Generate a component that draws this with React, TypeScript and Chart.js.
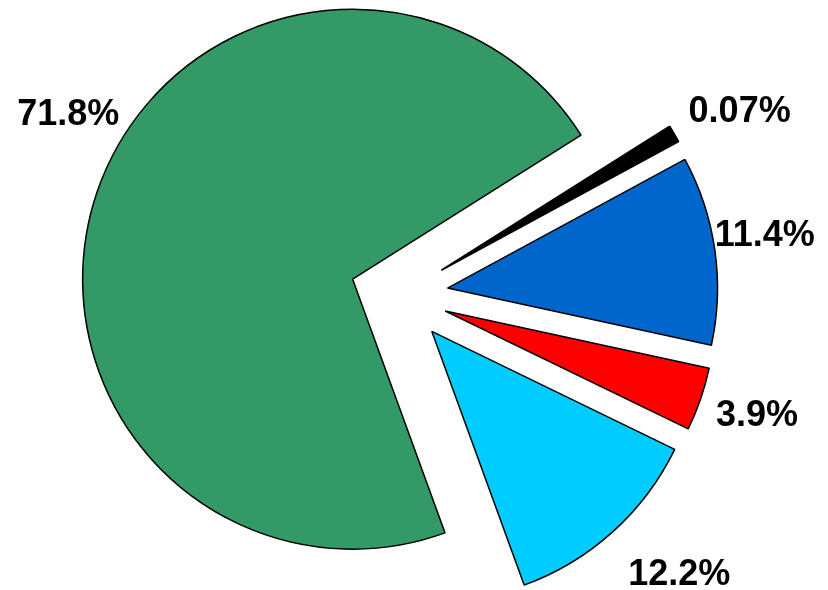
import React, { useEffect, useRef } from 'react';
import { Chart, registerables, PieController } from 'chart.js';

// ---- data ----
const sliceNames = ['Slice A', 'Slice B', 'Slice C', 'Slice D', 'Slice E'];
// share of the full circle each slice occupies in the drawing (percent)
const sliceShares = [71.6, 1.05, 11.3, 3.8, 12.25];
// label texts as printed next to the slices
const labelTexts = ['71.8%', '0.07%', '11.4%', '3.9%', '12.2%'];

// ---- styles ----
const sliceColors = ['#339966', '#000000', '#0066CC', '#FF0000', '#00CCFF'];
const PIE_RADIUS = 270;
const EXPLODE = 49;
const ROTATION = 160;
const FONT_SIZE = 36;
// label placement relative to each slice's own vertex and mid-angle
const LABEL_EXTRA = [60, 69, 52, 58, 75];
const LABEL_TURN = [11.6, 2.0, -1.74, -0.94, -3.78];

class ExplodedPieController extends (PieController as any) {
  static id = 'explodedPie';
  updateElement(element: any, index: number, properties: any, mode: any) {
    if (properties && typeof properties.startAngle === 'number') {
      const ds: any = (this as any).getDataset();
      const e = ds.explode || 0;
      const mid = (properties.startAngle + properties.endAngle) / 2;
      properties.x += Math.cos(mid) * e;
      properties.y += Math.sin(mid) * e;
    }
    super.updateElement(element, index, properties, mode);
  }
}

Chart.register(...registerables, ExplodedPieController as any);

const labelPlugin = {
  id: 'sliceLabels',
  afterDatasetsDraw(chart: any) {
    const meta = chart.getDatasetMeta(0);
    const ctx = chart.ctx;
    ctx.save();
    ctx.font = `bold ${FONT_SIZE}px "Liberation Sans", Arial, sans-serif`;
    ctx.fillStyle = '#000000';
    ctx.textAlign = 'center';
    ctx.textBaseline = 'alphabetic';
    meta.data.forEach((arc: any, i: number) => {
      const p = arc.getProps(['x', 'y', 'startAngle', 'endAngle', 'outerRadius'], true);
      const a = (p.startAngle + p.endAngle) / 2 + (LABEL_TURN[i] * Math.PI) / 180;
      const r = p.outerRadius + LABEL_EXTRA[i];
      const cx = p.x + Math.cos(a) * r;
      const cy = p.y + Math.sin(a) * r;
      ctx.fillText(labelTexts[i], cx, cy + FONT_SIZE * 0.358);
    });
    ctx.restore();
  },
};

export default function App() {
  const ref = useRef<HTMLCanvasElement | null>(null);
  useEffect(() => {
    if (!ref.current) return;
    const chart = new Chart(ref.current, {
      type: 'explodedPie' as any,
      data: {
        labels: sliceNames,
        datasets: [
          {
            data: sliceShares,
            backgroundColor: sliceColors,
            borderColor: '#000000',
            borderWidth: 1.5,
            explode: EXPLODE,
          } as any,
        ],
      },
      options: {
        responsive: false,
        maintainAspectRatio: false,
        animation: false,
        rotation: ROTATION,
        radius: PIE_RADIUS,
        layout: { padding: { left: 0, right: 30, top: 0, bottom: 0 } },
        plugins: {
          legend: { display: false },
          tooltip: { enabled: false },
        },
        events: [],
      } as any,
      plugins: [labelPlugin],
    });
    return () => chart.destroy();
  }, []);
  return (
    <div style={{ position: 'absolute', left: 0, top: 0, width: 828, height: 590, background: '#ffffff' }}>
      <canvas ref={ref} width={828} height={590} style={{ display: 'block' }} />
    </div>
  );
}
